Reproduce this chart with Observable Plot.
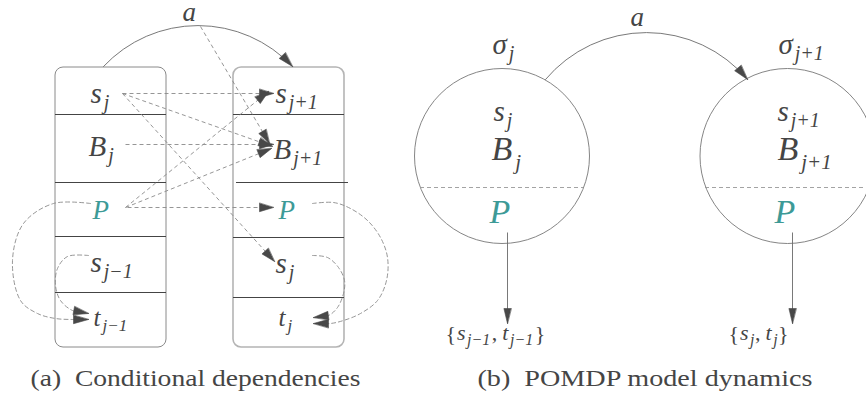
<!DOCTYPE html>
<html><head><meta charset="utf-8">
<script src="https://cdn.jsdelivr.net/npm/d3@7"></script>
<script src="https://cdn.jsdelivr.net/npm/@observablehq/plot@0.6"></script>
<style>body{margin:0;background:#fff}</style>
</head><body><div id="chart"></div>
<script>
// ---- diagram data ----
const boxes = [
  {id: "left",  x1: 55,  x2: 166, y1: 67, y2: 347},
  {id: "right", x1: 233, x2: 344, y1: 67, y2: 347}
];
const dividers = [
  {x1: 55, x2: 166, y: 114}, {x1: 55, x2: 166, y: 182}, {x1: 55, x2: 166, y: 236}, {x1: 55, x2: 166, y: 292},
  {x1: 233, x2: 344, y: 114}, {x1: 236, x2: 348, y: 182}, {x1: 233, x2: 344, y: 237}, {x1: 233, x2: 344, y: 297}
];
const states = [{id: "sigma_j", x: 501.5, y: 155.5}, {id: "sigma_j+1", x: 787, y: 155.5}];
const stateSplits = [{x1: 420, x2: 583, y: 187}, {x1: 705, x2: 866, y: 187}];
const dashedEdges = [
  {from: "s_j", to: "s_j+1", x1: 122, y1: 93, x2: 273, y2: 93},
  {from: "s_j", to: "B_j+1", x1: 122, y1: 93, x2: 272, y2: 146},
  {from: "s_j", to: "s_j'", x1: 122, y1: 93, x2: 274, y2: 261},
  {from: "a", to: "B_j+1", x1: 200, y1: 26, x2: 269, y2: 143},
  {from: "B_j", to: "B_j+1", x1: 125, y1: 144, x2: 273, y2: 144},
  {from: "P", to: "s_j+1", x1: 125, y1: 207, x2: 268, y2: 91},
  {from: "P", to: "B_j+1", x1: 125, y1: 207, x2: 271, y2: 148},
  {from: "P", to: "P'", x1: 127, y1: 207, x2: 273, y2: 207}
];
const solidEdges = [
  {from: "P", to: "{s_j-1,t_j-1}", x1: 507, y1: 232, x2: 507, y2: 323},
  {from: "P'", to: "{s_j,t_j}", x1: 792, y1: 232, x2: 792, y2: 323}
];
const arcEdges = [
  {label: "a (panel a)", x1: 103, y1: 66, x2: 292, y2: 66, bend: 47},
  {label: "a (panel b)", x1: 545, y1: 79, x2: 747, y2: 79, bend: 50}
];
const loopLeftOuter = [[90,203],[53,203],[23,223],[12,260],[20,300],[37,313],[55,318],[72,319],[88,319]];
const loopLeftInner = [[88,255],[67,256],[57,268],[55,285],[60,300],[72,310],[88,313]];
const loopRightInner = [[312,255],[327,257],[338,267],[344,280],[343,293],[337,307],[328,315],[313,317]];
const loopRightOuter = [[312,203],[333,202],[350,208],[367,220],[380,237],[387,257],[386,280],[377,300],[360,313],[343,320],[330,323],[313,323]];

// labels: start x, baseline y, and runs of text (base / subscript)
const labels = [
  // panel (a)
  {x: 182, y: 20, runs: [["a", "lab"]]},
  {x: 90, y: 102, runs: [["s", "var"], ["j", "sub"]]},
  {x: 275, y: 102, runs: [["s", "var"], ["j+1", "sub"]]},
  {x: 88, y: 155, runs: [["B", "var"], ["j", "sub"]]},
  {x: 273, y: 158, runs: [["B", "var"], ["j+1", "sub"]]},
  {x: 92, y: 218, runs: [["P", "pa"]]},
  {x: 278, y: 218, runs: [["P", "pa"]]},
  {x: 90, y: 271, runs: [["s", "var"], ["j−1", "sub"]]},
  {x: 275, y: 272, runs: [["s", "var"], ["j", "sub"]]},
  {x: 93, y: 325, runs: [["t", "tv"], ["j−1", "tsub"]]},
  {x: 278, y: 325, runs: [["t", "tv"], ["j", "tsub"]]},
  // panel (b)
  {x: 630, y: 25, runs: [["a", "lab"]]},
  {x: 492, y: 53, runs: [["σ", "var"], ["j", "sub"]]},
  {x: 778, y: 53, runs: [["σ", "var"], ["j+1", "sub"]]},
  {x: 493, y: 120, runs: [["s", "var"], ["j", "sub"]]},
  {x: 777, y: 120, runs: [["s", "var"], ["j+1", "sub"]]},
  {x: 491, y: 159, runs: [["B", "big"], ["j", "bsub"]]},
  {x: 777, y: 159, runs: [["B", "big"], ["j+1", "bsub"]]},
  {x: 489, y: 222, runs: [["P", "pb"]]},
  {x: 774, y: 222, runs: [["P", "pb"]]},
  {x: 445, y: 339, runs: [["{", "brace"], ["s", "small"], ["j−1", "ssub"], [",", "comma"], ["t", "small"], ["j−1", "ssub"], ["}", "brace"]]},
  {x: 728, y: 339, runs: [["{", "brace"], ["s", "small"], ["j", "ssub"], [",", "comma"], ["t", "small"], ["j", "ssub"], ["}", "brace"]]}
];
const captions = [
  {t: "(a)\u2002Conditional dependencies", x1: 30, x2: 360, y: 385},
  {t: "(b)\u2002POMDP model dynamics", x1: 477, x2: 812, y: 385}
];

// ---- styles ----
const FONT = "Times New Roman";
const INK = "#454545", LINE = "#6a6a6a", DASH = "#8a8a8a", TEAL = "#3d9a97";
const kindStyle = {
  lab:   {size: 27, italic: true, gap: 0},
  var:   {size: 29, italic: true, gap: 2},
  big:   {size: 34, italic: true, gap: 3},
  pa:    {size: 27, italic: true, teal: true},
  pb:    {size: 34, italic: true, teal: true},
  tv:    {size: 25, italic: true, gap: 2},
  small: {size: 22, italic: true, gap: 1.5},
  sub:   {size: 20, italic: true, dy: 6, spacing: 1},
  bsub:  {size: 21, italic: true, dy: 9, spacing: 1},
  tsub:  {size: 17, italic: true, dy: 5, spacing: 1},
  ssub:  {size: 16, italic: true, dy: 5, spacing: 0.5},
  brace: {size: 22, italic: false, gap: 1, dy: 1},
  comma: {size: 22, italic: false, gap: 5}
};

// ---- lay out label runs by measured text width ----
const ctx = document.createElement("canvas").getContext("2d");
const tokens = [];
labels.forEach((lab, li) => {
  let cx = lab.x;
  lab.runs.forEach(([t, k]) => {
    const s = kindStyle[k];
    ctx.font = `${s.italic ? "italic " : ""}${s.size}px "${FONT}"`;
    tokens.push({label: li, t, k, x: cx, y: lab.y + (s.dy || 0)});
    cx += ctx.measureText(t).width + (s.spacing || 0) * t.length + (s.gap || 0);
  });
});

// ---- arrowheads derived from edge geometry ----
function head(id, tx, ty, dx, dy, L = 14, W = 4.2) {
  const n = Math.hypot(dx, dy), ux = dx / n, uy = dy / n;
  const bx = tx - L * ux, by = ty - L * uy;
  return [{id, x: tx, y: ty}, {id, x: bx - W * uy, y: by + W * ux}, {id, x: bx + W * uy, y: by - W * ux}];
}
const heads = [];
dashedEdges.forEach((e, i) => heads.push(...head("d" + i, e.x2, e.y2, e.x2 - e.x1, e.y2 - e.y1)));
solidEdges.forEach((e, i) => heads.push(...head("s" + i, e.x2, e.y2, e.x2 - e.x1, e.y2 - e.y1, 15, 3.6)));
arcEdges.forEach((e, i) => {
  const a = Math.atan2(e.y2 - e.y1, e.x2 - e.x1) + e.bend * Math.PI / 180;
  heads.push(...head("a" + i, e.x2, e.y2, Math.cos(a), Math.sin(a), 15, 4.2));
});
const loops = [loopLeftOuter, loopLeftInner, loopRightInner, loopRightOuter];
const loopPts = [];
loops.forEach((pts, i) => {
  pts.forEach(([x, y]) => loopPts.push({id: "l" + i, x, y}));
  const [px, py] = pts[pts.length - 2], [tx, ty] = pts[pts.length - 1];
  heads.push(...head("l" + i, tx, ty, tx - px, ty - py, 15, 4.2));
});

function textMark(data, opts) {
  return Plot.text(data, {
    x: "x", y: "y", text: "t", textAnchor: "start", lineAnchor: "bottom",
    fontFamily: FONT, ...opts
  });
}

const chart = Plot.plot({
  width: 866, height: 400, margin: 0,
  x: {domain: [0, 866], range: [0, 866], axis: null},
  y: {domain: [0, 400], range: [0, 400], axis: null},
  style: {background: "white", overflow: "hidden"},
  marks: [
    Plot.rect(boxes.filter(d => d.id === "left"), {x1: "x1", x2: "x2", y1: "y1", y2: "y2", rx: 8, fill: "none", stroke: "#8a8a8a", strokeWidth: 1}),
    Plot.rect(boxes.filter(d => d.id === "right"), {x1: "x1", x2: "x2", y1: "y1", y2: "y2", rx: 8, fill: "none", stroke: "#b4b4b4", strokeWidth: 1.6}),
    Plot.ruleY(dividers, {y: "y", x1: "x1", x2: "x2", stroke: "#444", strokeWidth: 1}),
    Plot.dot(states, {x: "x", y: "y", r: 87.5, fill: "none", stroke: "#777", strokeWidth: 0.9}),
    Plot.ruleY(stateSplits, {y: "y", x1: "x1", x2: "x2", stroke: "#999", strokeWidth: 0.9, strokeDasharray: "4,3"}),
    Plot.link(dashedEdges, {x1: "x1", y1: "y1", x2: "x2", y2: "y2", stroke: DASH, strokeWidth: 0.9, strokeDasharray: "4,3"}),
    Plot.line(loopPts, {x: "x", y: "y", z: "id", curve: "catmull-rom", stroke: DASH, strokeWidth: 0.9, strokeDasharray: "4,3"}),
    Plot.link(solidEdges, {x1: "x1", y1: "y1", x2: "x2", y2: "y2", stroke: LINE, strokeWidth: 0.9}),
    ...arcEdges.map(e => Plot.arrow([e], {x1: "x1", y1: "y1", x2: "x2", y2: "y2", bend: e.bend, headLength: 0, stroke: LINE, strokeWidth: 0.9})),
    Plot.line(heads, {x: "x", y: "y", z: "id", curve: "linear-closed", fill: "#484848", stroke: "#484848", strokeWidth: 0.6}),
    ...Object.entries(kindStyle).map(([k, s]) => textMark(tokens.filter(d => d.k === k), {
      fontSize: s.size, fontStyle: s.italic ? "italic" : "normal", fill: s.teal ? TEAL : INK
    })),
    textMark(captions, {fontSize: 23, fill: INK, x: "x1"})
  ]
});
document.getElementById("chart").append(chart);

// stretch captions to the span they occupy in the reference
d3.select(chart).selectAll("text")
  .each(function () {
    const c = captions.find(d => d.t === this.textContent);
    if (c) { this.setAttribute("textLength", c.x2 - c.x1); this.setAttribute("lengthAdjust", "spacingAndGlyphs"); }
  });
</script>
</body></html>
